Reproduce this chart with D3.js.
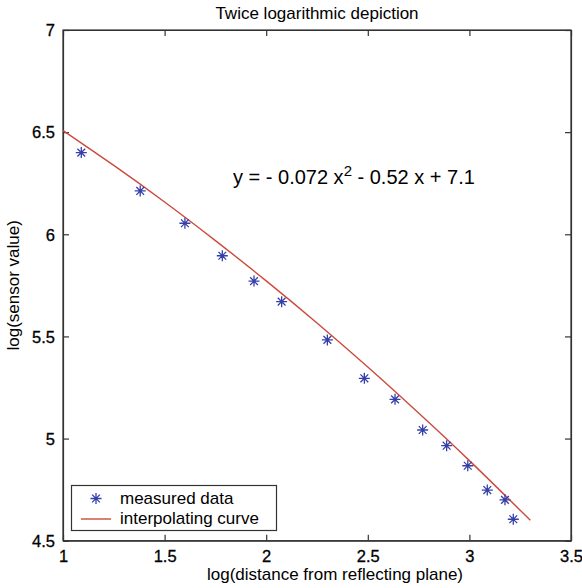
<!DOCTYPE html>
<html><head><meta charset="utf-8">
<script src="https://cdn.jsdelivr.net/npm/d3@7"></script>
<style>
body{margin:0;background:#fff;}
svg{display:block;font-family:"Liberation Sans",Arial,Helvetica,sans-serif;}
</style></head>
<body><svg id="c" width="582" height="588"></svg>
<script>
const dataX = [1.09, 1.38, 1.60, 1.784, 1.94, 2.076, 2.301, 2.483, 2.634, 2.770, 2.888, 2.992, 3.088, 3.175, 3.216];
const dataY = [6.40, 6.212, 6.054, 5.895, 5.771, 5.670, 5.483, 5.295, 5.192, 5.042, 4.965, 4.867, 4.748, 4.700, 4.605];
// interpolating curve
const curveX = [1.0, 1.25, 1.5, 1.75, 2.0, 2.25, 2.5, 2.75, 3.0, 3.3];
const curveY = [6.508, 6.337, 6.158, 5.969, 5.772, 5.566, 5.350, 5.125, 4.892, 4.600];
const xTicks = [1, 1.5, 2, 2.5, 3, 3.5];
const yTicks = [4.5, 5, 5.5, 6, 6.5, 7];
const title = "Twice logarithmic depiction";
const xLabel = "log(distance from reflecting plane)";
const yLabel = "log(sensor value)";
const equation = ["y = - 0.072 x", "2", " - 0.52 x + 7.1"];
const legendItems = ["measured data", "interpolating curve"];

const svg = d3.select("#c");
const L = 63, R = 571, T = 30, B = 540.7;
const x = d3.scaleLinear().domain([1, 3.5]).range([L, R]);
const y = d3.scaleLinear().domain([4.5, 7]).range([B, T]);
const axisColor = "#333";
const textColor = "#000";
const fontSize = 16.5;

// box
svg.append("rect").attr("x", L).attr("y", T).attr("width", R - L).attr("height", B - T)
  .attr("fill", "#fff").attr("stroke", axisColor).attr("stroke-width", 1.2);

// axes
const xa = svg.append("g").attr("transform", `translate(0,${B})`)
  .call(d3.axisBottom(x).tickValues(xTicks).tickFormat(d3.format("")).tickSizeInner(-6).tickSizeOuter(0).tickPadding(10));
const xt = svg.append("g").attr("transform", `translate(0,${T})`)
  .call(d3.axisTop(x).tickValues(xTicks).tickFormat("").tickSizeInner(-6).tickSizeOuter(0));
const ya = svg.append("g").attr("transform", `translate(${L},0)`)
  .call(d3.axisLeft(y).tickValues(yTicks).tickFormat(d3.format("")).tickSizeInner(-6).tickSizeOuter(0).tickPadding(8));
const yr = svg.append("g").attr("transform", `translate(${R},0)`)
  .call(d3.axisRight(y).tickValues(yTicks).tickFormat("").tickSizeInner(-6).tickSizeOuter(0));
[xa, xt, ya, yr].forEach(g => {
  g.select(".domain").attr("stroke", axisColor).attr("stroke-width", 1.2);
  g.selectAll(".tick line").attr("stroke", axisColor).attr("stroke-width", 1.2);
  g.selectAll(".tick text").attr("fill", textColor).attr("font-size", fontSize)
    .attr("font-family", '"Liberation Sans",Arial,sans-serif')
    .attr("stroke", textColor).attr("stroke-width", 0.3);
});
ya.selectAll(".tick text").attr("dy", "0.35em");

// curve
const line = d3.line().x(d => x(d[0])).y(d => y(d[1])).curve(d3.curveNatural);
svg.append("path").datum(curveX.map((v, i) => [v, curveY[i]]))
  .attr("d", line).attr("fill", "none").attr("stroke", "#cc4a3c").attr("stroke-width", 1.4);

// star marker
function star(g, cx, cy, r) {
  const p = [];
  for (let k = 0; k < 4; k++) {
    const a = k * Math.PI / 4;
    p.push(`M${cx - r * Math.cos(a)},${cy - r * Math.sin(a)}L${cx + r * Math.cos(a)},${cy + r * Math.sin(a)}`);
  }
  g.append("path").attr("d", p.join("")).attr("stroke", "#3440a8").attr("stroke-width", 1.3).attr("fill", "none");
}
const pts = svg.append("g");
dataX.forEach((v, i) => star(pts, x(v), y(dataY[i]), 5.5));

// equation
const eq = svg.append("text").attr("x", 233).attr("y", 184).attr("font-size", 20).attr("fill", textColor);
eq.append("tspan").text(equation[0]);
eq.append("tspan").attr("dy", -8).attr("font-size", 15).text(equation[1]);
eq.append("tspan").attr("dy", 8).text(equation[2]);

// legend
const lg = svg.append("g");
lg.append("rect").attr("x", 71.5).attr("y", 485.5).attr("width", 205).attr("height", 45)
  .attr("fill", "#fff").attr("stroke", axisColor).attr("stroke-width", 1.2);
star(lg, 96, 498.5, 5.5);
lg.append("line").attr("x1", 81).attr("x2", 111).attr("y1", 519).attr("y2", 519)
  .attr("stroke", "#cc4a3c").attr("stroke-width", 1.4);
lg.append("text").attr("x", 120).attr("y", 504).attr("font-size", 17).attr("fill", textColor).text(legendItems[0]);
lg.append("text").attr("x", 120).attr("y", 524).attr("font-size", 17).attr("fill", textColor).text(legendItems[1]);

// title and labels
svg.append("text").attr("x", (L + R) / 2).attr("y", 19).attr("text-anchor", "middle")
  .attr("font-size", 17).attr("fill", textColor).text(title);
svg.append("text").attr("x", (L + R) / 2 + 18).attr("y", 580).attr("text-anchor", "middle")
  .attr("font-size", 17).attr("fill", textColor).text(xLabel);
svg.append("text").attr("transform", `translate(19,${(T + B) / 2}) rotate(-90)`).attr("text-anchor", "middle")
  .attr("font-size", 17).attr("fill", textColor).text(yLabel);
</script></body></html>
